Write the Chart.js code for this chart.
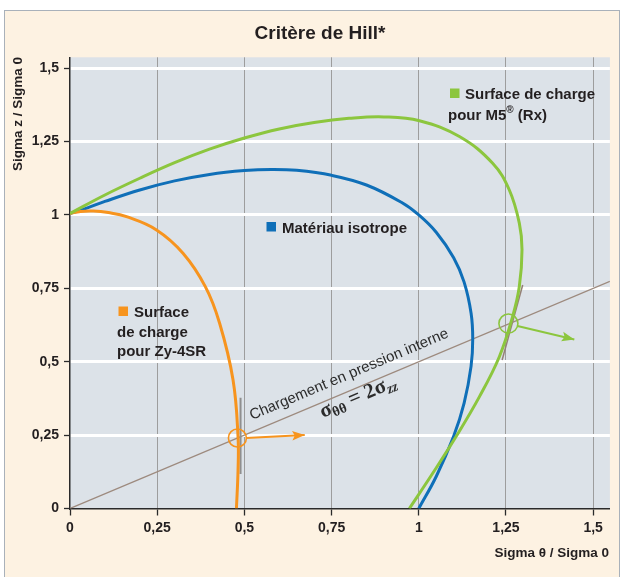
<!DOCTYPE html>
<html><head><meta charset="utf-8">
<script src="https://cdn.jsdelivr.net/npm/chart.js@4.4.1/dist/chart.umd.min.js"></script>
<style>html,body{margin:0;padding:0;background:#fff}canvas{display:block}</style>
</head><body>
<canvas id="c" width="621" height="577"></canvas>
<script>
// Axis ticks (sigma / sigma0), labelled with a decimal comma
const tickValues = [0, 0.25, 0.5, 0.75, 1, 1.25, 1.5];
const xTickLabels = ['0', '0,25', '0,5', '0,75', '1', '1,25', '1,5'];
const yTickLabels = ['0', '0,25', '0,5', '0,75', '1', '1,25', '1,5'];

// Yield surface of Zy-4SR (sigma theta / sigma0, sigma z / sigma0)
const zy4Theta = [0, 0.03, 0.067, 0.11, 0.162, 0.248, 0.324, 0.388, 0.429, 0.4675, 0.4818, 0.4818, 0.4772];
const zy4Z     = [1.005, 1.012, 1.0136, 1.008, 0.994, 0.949, 0.8695, 0.7557, 0.631, 0.438, 0.2446, 0.1312, 0.0];

// Isotropic material (von Mises)
const isoTheta = [0, 0.05, 0.1, 0.2, 0.3, 0.4, 0.5, 0.577, 0.65, 0.75, 0.85, 0.95, 1.0, 1.05, 1.1, 1.13, 1.15, 1.1547, 1.15, 1.13, 1.1, 1.05, 1.0];
const isoZ     = [1.005, 1.024, 1.046, 1.085, 1.116, 1.138, 1.151, 1.155, 1.152, 1.135, 1.102, 1.043, 1.0, 0.941, 0.854, 0.771, 0.665, 0.577, 0.485, 0.359, 0.246, 0.109, 0.0];

// Yield surface of M5 (Rx)
const m5Theta = [0, 0.1, 0.2, 0.3, 0.4, 0.5, 0.6, 0.7, 0.8, 0.9, 1.002, 1.1165, 1.2118, 1.2596, 1.2883, 1.296, 1.2883, 1.269, 1.231, 1.174, 1.107, 1.04, 0.973];
const m5Z     = [1.005, 1.068, 1.125, 1.178, 1.224, 1.262, 1.293, 1.315, 1.329, 1.334, 1.321, 1.267, 1.176, 1.085, 0.972, 0.881, 0.756, 0.6535, 0.517, 0.381, 0.245, 0.12, 0.0];

// Internal-pressure loading path: sigma_theta = 2 sigma_z
const loadTheta = [0, 1.548];
const loadZ     = [0, 0.774];

// Yield points on the loading path
const yieldTheta = [0.48, 1.257];
const yieldZ     = [0.24, 0.63];

// Tangents to the surfaces at the yield points
const zy4TangentTheta = [0.489, 0.489];
const zy4TangentZ     = [0.3775, 0.1175];
const m5TangentTheta  = [1.298, 1.239];
const m5TangentZ      = [0.7615, 0.506];

// Normals (plastic flow direction)
const zy4ArrowTheta = [0.505, 0.673];
const zy4ArrowZ     = [0.240, 0.250];
const m5ArrowTheta  = [1.283, 1.446];
const m5ArrowZ      = [0.622, 0.576];

const ORANGE = '#f7941e', BLUE = '#0f6fb8', GREEN = '#8cc63e';
const TEXT = '#231f20';
const FONT = '"Liberation Sans", Arial, Helvetica, sans-serif';

const pts = (xs, ys) => xs.map((x, i) => ({x, y: ys[i]}));

const frame = {
  id: 'frame',
  beforeDraw(chart) {
    const {ctx, chartArea: a} = chart;
    ctx.save();
    ctx.fillStyle = '#ffffff';
    ctx.fillRect(0, 0, chart.width, chart.height);
    ctx.fillStyle = '#fdf2e2';
    ctx.fillRect(4, 10, 616, 570);
    ctx.strokeStyle = '#a9b1ba';
    ctx.lineWidth = 1;
    ctx.strokeRect(4.5, 10.5, 615, 570);
    ctx.fillStyle = '#dce2e8';
    ctx.fillRect(a.left, a.top, a.right - a.left, a.bottom - a.top);
    ctx.restore();
  }
};

const arrows = {
  id: 'arrows',
  afterDatasetsDraw(chart) {
    const ctx = chart.ctx;
    chart.data.datasets.forEach((ds, i) => {
      if (!ds.arrow) return;
      const d = chart.getDatasetMeta(i).data;
      const p0 = d[0], p1 = d[d.length - 1];
      const ang = Math.atan2(p1.y - p0.y, p1.x - p0.x);
      const L = 12.5, W = 4.8;
      ctx.save();
      ctx.translate(p1.x, p1.y);
      ctx.rotate(ang);
      ctx.fillStyle = ds.borderColor;
      ctx.beginPath();
      ctx.moveTo(0, 0);
      ctx.lineTo(-L, -W);
      ctx.lineTo(-L + 2.5, 0);
      ctx.lineTo(-L, W);
      ctx.closePath();
      ctx.fill();
      ctx.restore();
    });
  }
};

const texts = {
  id: 'texts',
  afterDraw(chart) {
    const ctx = chart.ctx;
    const xs = chart.scales.x, ys = chart.scales.y;
    ctx.save();
    ctx.fillStyle = TEXT;
    ctx.textBaseline = 'alphabetic';

    // Title
    ctx.font = 'bold 19px ' + FONT;
    ctx.textAlign = 'center';
    ctx.fillText('Critère de Hill*', 320, 39);

    // Axis titles
    ctx.font = 'bold 13.5px ' + FONT;
    ctx.textAlign = 'right';
    ctx.fillText('Sigma \u03b8 / Sigma 0', 609, 557);
    ctx.save();
    ctx.translate(21.5, 57);
    ctx.rotate(-Math.PI / 2);
    ctx.fillText('Sigma z / Sigma 0', 0, 0);
    ctx.restore();

    // Curve labels with colour keys
    ctx.textAlign = 'left';
    ctx.font = 'bold 15px ' + FONT;
    const key = (c, x, y) => { ctx.fillStyle = c; ctx.fillRect(x, y, 9.5, 9.5); ctx.fillStyle = TEXT; };
    key(ORANGE, 118.5, 306.5);
    ctx.fillText('Surface', 134, 317);
    ctx.fillText('de charge', 117, 336.5);
    ctx.fillText('pour Zy-4SR', 117, 356);
    key(BLUE, 266.5, 222);
    ctx.fillText('Matériau isotrope', 282, 232.5);
    key(GREEN, 450, 88.5);
    ctx.fillText('Surface de charge', 465, 99);
    const w1 = ctx.measureText('pour M5').width;
    ctx.fillText('pour M5', 448, 119.5);
    ctx.font = 'bold 10px ' + FONT;
    ctx.fillText('\u00ae', 448 + w1, 112.5);
    const w2 = ctx.measureText('\u00ae').width;
    ctx.font = 'bold 15px ' + FONT;
    ctx.fillText(' (Rx)', 448 + w1 + w2, 119.5);

    // Labels along the loading path
    const x0 = xs.getPixelForValue(loadTheta[0]), y0 = ys.getPixelForValue(loadZ[0]);
    const x1 = xs.getPixelForValue(loadTheta[1]), y1 = ys.getPixelForValue(loadZ[1]);
    const ang = Math.atan2(y0 - y1, x1 - x0);
    ctx.translate(x0, y0);
    ctx.rotate(-ang);
    ctx.textAlign = 'left';
    ctx.fillStyle = '#2b2b2b';
    ctx.font = '15px ' + FONT;
    ctx.fillText('Chargement en pression interne', 202, -11);

    const big = 'bold 21px "Liberation Serif", "DejaVu Serif", serif';
    const sub = 'bold 14px "Liberation Serif", "DejaVu Serif", serif';
    const subI = 'bold italic 14px "Liberation Serif", "DejaVu Serif", serif';
    let px = 268;
    const base = 14.5;
    const put = (t, f, dy) => { ctx.font = f; ctx.fillText(t, px, base + dy); px += ctx.measureText(t).width; };
    put('\u03c3', big, 0);
    put('\u03b8\u03b8', sub, 3.5);
    put(' = 2', big, 0);
    put('\u03c3', big, 0);
    put('zz', subI, 3.5);
    ctx.restore();
  }
};

const fmtTick = labels => (v) => {
  const k = tickValues.findIndex(t => Math.abs(t - v) < 1e-6);
  return k >= 0 ? labels[k] : '';
};

new Chart(document.getElementById('c'), {
  type: 'scatter',
  data: {
    datasets: [
      {label: 'Zy-4SR', data: pts(zy4Theta, zy4Z), showLine: true, borderColor: ORANGE, borderWidth: 3, pointRadius: 0, tension: 0.4, order: 2},
      {label: 'Matériau isotrope', data: pts(isoTheta, isoZ), showLine: true, borderColor: BLUE, borderWidth: 3, pointRadius: 0, tension: 0.4, order: 2},
      {label: 'M5 (Rx)', data: pts(m5Theta, m5Z), showLine: true, borderColor: GREEN, borderWidth: 3, pointRadius: 0, tension: 0.4, order: 1},
      {label: 'Chargement', data: pts(loadTheta, loadZ), showLine: true, borderColor: '#9d8a7e', borderWidth: 1.3, pointRadius: 0, order: 5},
      {label: 'Tangente Zy-4SR', data: pts(zy4TangentTheta, zy4TangentZ), showLine: true, borderColor: '#8f8f8f', borderWidth: 2, pointRadius: 0, order: 4},
      {label: 'Tangente M5', data: pts(m5TangentTheta, m5TangentZ), showLine: true, borderColor: '#948176', borderWidth: 1.5, pointRadius: 0, order: 4},
      {label: 'Seuil', data: pts(yieldTheta, yieldZ), showLine: false, pointRadius: [9, 9.5], pointBorderWidth: 1.6, pointBackgroundColor: 'rgba(0,0,0,0)', pointBorderColor: [ORANGE, GREEN], order: 0},
      {label: 'Normale Zy-4SR', data: pts(zy4ArrowTheta, zy4ArrowZ), showLine: true, borderColor: ORANGE, borderWidth: 2, pointRadius: 0, arrow: true, order: 0},
      {label: 'Normale M5', data: pts(m5ArrowTheta, m5ArrowZ), showLine: true, borderColor: GREEN, borderWidth: 2, pointRadius: 0, arrow: true, order: 0}
    ]
  },
  options: {
    responsive: false,
    animation: false,
    devicePixelRatio: 1,
    events: [],
    layout: {padding: {left: 0, right: 10.3, top: 57.3, bottom: 0}},
    plugins: {legend: {display: false}, tooltip: {enabled: false}, title: {display: false}},
    scales: {
      x: {
        type: 'linear', min: 0, max: 1.548,
        afterFit: s => { s.height = 68.5; },
        afterBuildTicks: s => { s.ticks = tickValues.map(v => ({value: v})); },
        ticks: {stepSize: 0.25, includeBounds: false, autoSkip: false, maxRotation: 0, padding: 4,
                color: TEXT, font: {family: FONT, size: 14, weight: 'bold'}, callback: fmtTick(xTickLabels)},
        grid: {color: c => (c.tick && c.tick.value === 0) ? 'rgba(0,0,0,0)' : '#9d9d9d', lineWidth: 1,
               drawTicks: true, tickLength: 7, tickColor: '#2a2a2a', tickWidth: 1.3},
        border: {color: '#2a2a2a', width: 1.5}
      },
      y: {
        type: 'linear', min: 0, max: 1.537,
        afterFit: s => { s.width = 70; },
        afterBuildTicks: s => { s.ticks = tickValues.map(v => ({value: v})); },
        ticks: {stepSize: 0.25, includeBounds: false, autoSkip: false, padding: 5,
                color: TEXT, font: {family: FONT, size: 14, weight: 'bold'}, callback: fmtTick(yTickLabels)},
        grid: {color: c => (c.tick && c.tick.value === 0) ? 'rgba(0,0,0,0)' : '#ffffff', lineWidth: 3,
               drawTicks: true, tickLength: 6, tickColor: '#2a2a2a', tickWidth: 1.3},
        border: {color: '#2a2a2a', width: 1.5}
      }
    }
  },
  plugins: [frame, arrows, texts]
});
</script>
</body></html>
